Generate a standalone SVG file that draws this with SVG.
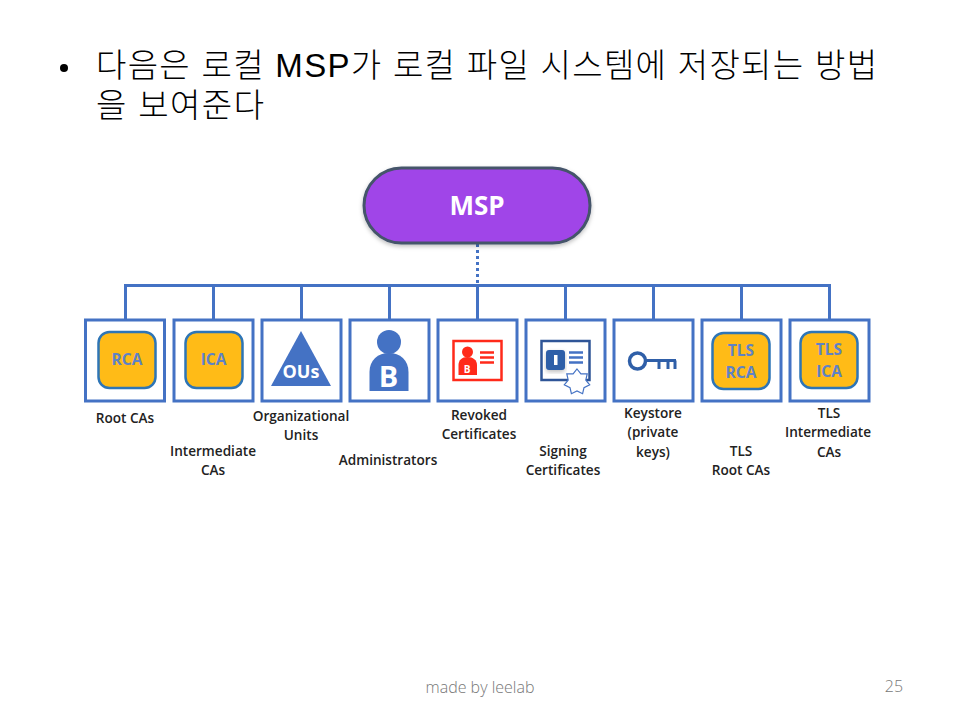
<svg xmlns="http://www.w3.org/2000/svg" width="960" height="720" viewBox="0 0 960 720">
<style>
text{font-family:"Open Sans","Noto Sans CJK KR","Noto Sans",sans-serif}
.t{font-size:33px;fill:#000;font-family:"Liberation Sans","Noto Sans CJK KR",sans-serif;font-weight:300}
.l{font-size:13.600px;font-weight:600;fill:#222;text-anchor:middle;font-family:"Open Sans",sans-serif}
.b{fill:#fff;stroke:#4472c4;stroke-width:3}
.c{fill:#ffbb17;stroke:#2e75b6;stroke-width:2.500}
.ct{font-size:15.500px;font-weight:700;fill:#5f82c6;text-anchor:middle}
.ln{fill:none;stroke:#4472c4;stroke-width:3}
.f{font-size:16px;font-weight:300;fill:#777}
</style>
<defs><filter id="s" x="-10%" y="-10%" width="120%" height="130%"><feDropShadow dx="0" dy="2" stdDeviation="2" flood-color="#000" flood-opacity=".25"/></filter></defs>
<g id="title">
<circle cx="64" cy="68" r="4" fill="#000"/>
<text class="t"><tspan x="96" y="77" textLength="781" lengthAdjust="spacing">다음은 로컬 MSP가 로컬 파일 시스템에 저장되는 방법</tspan><tspan x="96" y="117" textLength="168" lengthAdjust="spacing">을 보여준다</tspan></text>
</g>
<g id="connectors">
<path d="M477.500 244V283" fill="none" stroke="#4472c4" stroke-width="3" stroke-dasharray="3 3"/>
<path class="ln" d="M125.500 320V285.500H829.500V320M213.500 285.500V320M301.500 285.500V320M389.500 285.500V320M477.500 285.500V320M565.500 285.500V320M653.500 285.500V320M741.500 285.500V320"/>
</g>
<g id="msp">
<rect x="364" y="168" width="226" height="75" rx="37.500" fill="#a044e8" stroke="#44546a" stroke-width="3" filter="url(#s)"/>
<text x="477" y="214.500" font-size="26" font-weight="700" fill="#fff" text-anchor="middle">MSP</text>
</g>
<g id="rca">
<rect class="b" x="85.500" y="320" width="79" height="81"/>
<rect class="c" x="98.500" y="332" width="57" height="56" rx="11"/>
<text class="ct" x="127" y="365">RCA</text>
<text class="l" x="125" y="423">Root CAs</text>
</g>
<g id="ica">
<rect class="b" x="174" y="320" width="79" height="81"/>
<rect class="c" x="185.500" y="332" width="57" height="56" rx="11"/>
<text class="ct" x="213.500" y="365">ICA</text>
<text class="l" x="213" y="456">Intermediate</text>
<text class="l" x="213" y="475">CAs</text>
</g>
<g id="ous">
<rect class="b" x="262" y="320" width="79" height="81"/>
<path d="M301 331L331 386H271Z" fill="#4472c4"/>
<text x="301" y="378" font-size="18" font-weight="700" fill="#fff" text-anchor="middle">OUs</text>
<text class="l" x="301" y="421">Organizational</text>
<text class="l" x="301" y="440">Units</text>
</g>
<g id="admins">
<rect class="b" x="350" y="320" width="79" height="81"/>
<circle cx="389" cy="342" r="12" fill="#4472c4"/>
<path d="M369.500 391V372C369.500 360 378 353 389 353S408.500 360 408.500 372V391Z" fill="#4472c4"/>
<text x="388.500" y="387" font-size="29" font-weight="700" fill="#fff" text-anchor="middle">B</text>
<text class="l" x="388" y="465">Administrators</text>
</g>
<g id="revoked">
<rect class="b" x="438" y="320" width="79" height="81"/>
<rect x="453.500" y="341" width="48" height="39" fill="#fff" stroke="#ff2a1a" stroke-width="2.500"/>
<circle cx="467.500" cy="352" r="5.500" fill="#ff2a1a"/>
<path d="M458.500 375V365C458.500 360 462 357 467.500 357S477 360 477 365V375Z" fill="#ff2a1a"/>
<text x="467" y="373" font-size="10" font-weight="700" fill="#fff" text-anchor="middle">B</text>
<path d="M480 352.500H494M480 357.500H494M480 362.500H494" stroke="#ff2a1a" stroke-width="2.500" fill="none"/>
<text class="l" x="479" y="420">Revoked</text>
<text class="l" x="479" y="439">Certificates</text>
</g>
<g id="signing">
<rect class="b" x="526" y="320" width="79" height="81"/>
<rect x="541.500" y="341" width="48" height="39" fill="#fff" stroke="#2f5597" stroke-width="2.500"/>
<rect x="546" y="350" width="19" height="20" rx="3" fill="#2f5fa8" filter="url(#s)"/>
<rect x="554" y="355" width="3.500" height="10" fill="#fff"/>
<path d="M569 352.500H583M569 357.500H583M569 362.500H583" stroke="#4472c4" stroke-width="2.500" fill="none"/>
<path d="M577 369L580.900 373.900L587.200 373.900L585.800 380L589.700 384.900L584 387.600L582.600 393.700L577 391L571.400 393.700L570 387.600L564.300 384.900L568.200 380L566.800 373.900L573.100 373.900Z" fill="#fff" stroke="#4472c4" stroke-width="1.200"/>
<text class="l" x="563" y="456">Signing</text>
<text class="l" x="563" y="475">Certificates</text>
</g>
<g id="keystore">
<rect class="b" x="614" y="320" width="79" height="81"/>
<circle cx="637.500" cy="361" r="8" fill="#fff" stroke="#2f5fa8" stroke-width="3.500"/>
<path d="M645 360.500H676M659 360.500V369M668 360.500V369M675 360.500V369" stroke="#2f5fa8" stroke-width="3" fill="none"/>
<text class="l" x="653" y="418">Keystore</text>
<text class="l" x="653" y="437">(private</text>
<text class="l" x="653" y="457">keys)</text>
</g>
<g id="tlsrca">
<rect class="b" x="702" y="320" width="79" height="81"/>
<rect class="c" x="712.500" y="333" width="57" height="56" rx="11"/>
<text class="ct" x="741" y="356">TLS</text>
<text class="ct" x="741" y="378">RCA</text>
<text class="l" x="741" y="456">TLS</text>
<text class="l" x="741" y="475">Root CAs</text>
</g>
<g id="tlsica">
<rect class="b" x="790" y="320" width="79" height="81"/>
<rect class="c" x="800.500" y="332" width="57" height="56" rx="11"/>
<text class="ct" x="829" y="355">TLS</text>
<text class="ct" x="829" y="377">ICA</text>
<text class="l" x="829" y="418">TLS</text>
<text class="l" x="828" y="437">Intermediate</text>
<text class="l" x="829" y="457">CAs</text>
</g>
<g id="footer">
<text class="f" x="480" y="693" text-anchor="middle">made by leelab</text>
<text class="f" x="894" y="692" text-anchor="middle">25</text>
</g>
</svg>
